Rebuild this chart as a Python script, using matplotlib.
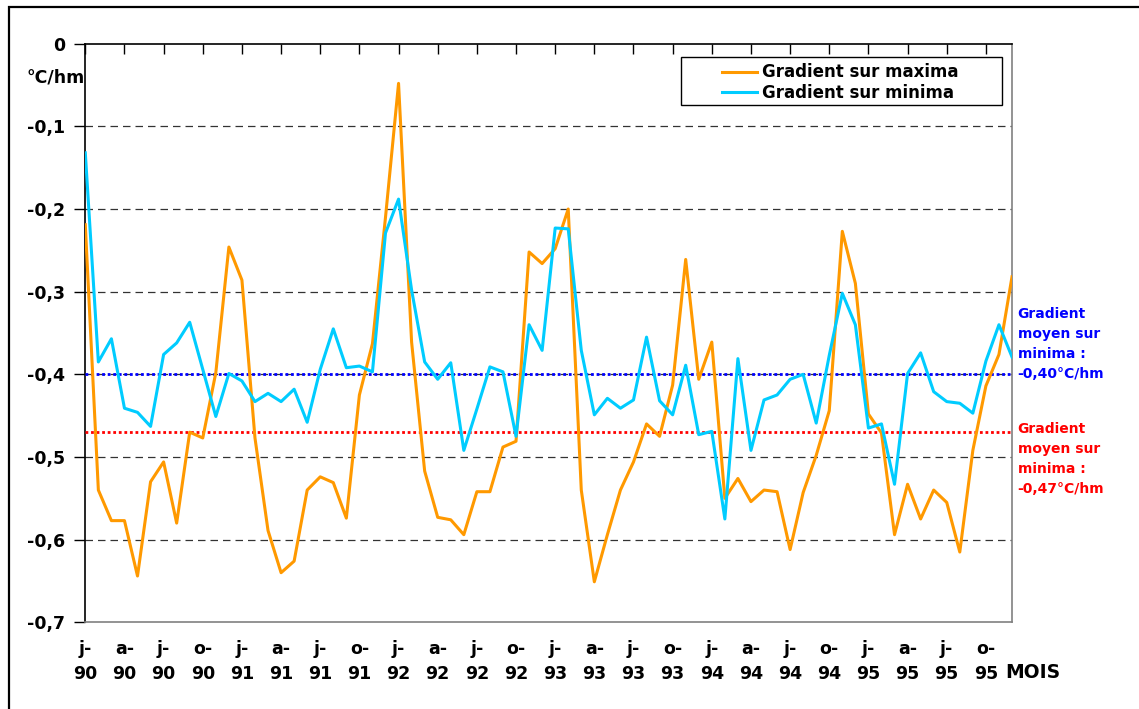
import matplotlib.pyplot as plt
from matplotlib.patches import Rectangle

# monthly altitude gradients, Jan 1990 -> Dec 1995 (degC per 100 m)
grad_max = [-0.219, -0.540, -0.577, -0.577, -0.644, -0.530, -0.506, -0.580, -0.470, -0.477, -0.398, -0.246,
            -0.286, -0.477, -0.589, -0.640, -0.626, -0.540, -0.524, -0.531, -0.574, -0.425, -0.363, -0.210,
            -0.048, -0.361, -0.517, -0.573, -0.576, -0.594, -0.542, -0.542, -0.488, -0.481, -0.252, -0.266,
            -0.248, -0.200, -0.540, -0.651, -0.594, -0.540, -0.506, -0.460, -0.475, -0.413, -0.261, -0.406,
            -0.361, -0.550, -0.526, -0.554, -0.540, -0.542, -0.612, -0.543, -0.498, -0.444, -0.227, -0.290,
            -0.448, -0.471, -0.594, -0.533, -0.575, -0.540, -0.555, -0.615, -0.492, -0.414, -0.376, -0.282]
grad_min = [-0.132, -0.385, -0.357, -0.441, -0.446, -0.463, -0.376, -0.362, -0.337, -0.394, -0.451, -0.399,
            -0.408, -0.433, -0.423, -0.433, -0.418, -0.458, -0.394, -0.345, -0.392, -0.390, -0.397, -0.229,
            -0.188, -0.298, -0.385, -0.406, -0.386, -0.492, -0.442, -0.391, -0.397, -0.475, -0.340, -0.371,
            -0.223, -0.224, -0.371, -0.449, -0.429, -0.441, -0.431, -0.355, -0.432, -0.449, -0.389, -0.473,
            -0.469, -0.575, -0.381, -0.492, -0.431, -0.425, -0.406, -0.400, -0.459, -0.377, -0.302, -0.340,
            -0.465, -0.460, -0.533, -0.399, -0.374, -0.421, -0.433, -0.435, -0.447, -0.384, -0.340, -0.379]

mean_min = -0.40
mean_max = -0.47

month_letters = ['j', 'a', 'j', 'o']
years = ['90', '91', '92', '93', '94', '95']
xtick_labels = [f'{m}-\n{y}' for y in years for m in month_letters]
yticks = [0, -0.1, -0.2, -0.3, -0.4, -0.5, -0.6, -0.7]
ytick_labels = ['0', '-0,1', '-0,2', '-0,3', '-0,4', '-0,5', '-0,6', '-0,7']

W, H = 1139, 709
fig = plt.figure(figsize=(W / 100, H / 100), dpi=100)
ax = fig.add_axes([85.3 / W, 1 - 622.3 / H, (1012 - 85.3) / W, (622.3 - 43.7) / H])

months = range(len(grad_max))
ax.plot(months, grad_max, color='#FF9900', lw=2.2, label='Gradient sur maxima', zorder=4)
ax.plot(months, grad_min, color='#00CCFF', lw=2.2, label='Gradient sur minima', zorder=5)

# mean lines
ax.axhline(mean_min, color='#0000FF', lw=2.0, ls=(0, (1, 1)), zorder=3)
ax.axhline(mean_max, color='#FF0000', lw=2.0, ls=(0, (1, 1)), zorder=3)

ax.set_xlim(0, len(grad_max) - 1)
ax.set_ylim(-0.7, 0)
ax.set_xticks(range(0, len(grad_max), 3))
ax.set_xticklabels(xtick_labels, fontsize=12.5, fontweight='bold', linespacing=1.5)
ax.set_yticks(yticks)
ax.set_yticklabels(ytick_labels, fontsize=12.5, fontweight='bold')

ax.tick_params(axis='x', bottom=False, top=True, labelbottom=True, labeltop=False,
               direction='in', length=7, width=1, pad=13)
ax.tick_params(axis='y', direction='out', length=8, width=1, pad=6.5)

ax.grid(axis='y', color='#333333', lw=0.9, ls=(0, (6, 4)))
ax.set_axisbelow(True)
gl = ax.yaxis.get_gridlines()
gl[0].set_visible(False)
gl[-1].set_visible(False)

for side in ['top', 'left']:
    ax.spines[side].set_color('black')
    ax.spines[side].set_linewidth(1.2)
for side in ['bottom', 'right']:
    ax.spines[side].set_color('#808080')
    ax.spines[side].set_linewidth(1.2)

leg = ax.legend(loc='upper left', bbox_to_anchor=(714 / W, 1 - 55 / H), bbox_transform=fig.transFigure,
                frameon=False, borderpad=0, handlelength=2.1, handletextpad=0.3, labelspacing=0.15,
                prop={'weight': 'bold', 'size': 12})
fig.add_artist(Rectangle((681 / W, 1 - 105.3 / H), (1001.7 - 681) / W, 48 / H,
                         transform=fig.transFigure, fill=False, ec='black', lw=1.0))

fig.text(85 / W, 1 - 77 / H, '°C/hm', ha='right', va='center', fontsize=12.5, fontweight='bold')
fig.text(1005 / W, 1 - 673 / H, 'MOIS', ha='left', va='center', fontsize=13.5, fontweight='bold')

lab_min = f'{mean_min:.2f}'.replace('.', ',')
lab_max = f'{mean_max:.2f}'.replace('.', ',')
fig.text(1017.7 / W, 1 - 344 / H, f'Gradient\nmoyen sur\nminima :\n{lab_min}°C/hm', color='#0000FF',
         ha='left', va='center', fontsize=10, fontweight='bold', linespacing=1.55)
fig.text(1017.7 / W, 1 - 459 / H, f'Gradient\nmoyen sur\nminima :\n{lab_max}°C/hm', color='#FF0000',
         ha='left', va='center', fontsize=10, fontweight='bold', linespacing=1.55)

# outer border
fig.add_artist(Rectangle((9 / W, -0.05), 1.1, (1 - 6.7 / H) + 0.05, transform=fig.transFigure,
                         fill=False, ec='black', lw=1.6))

fig.savefig('out.png', dpi=100)
